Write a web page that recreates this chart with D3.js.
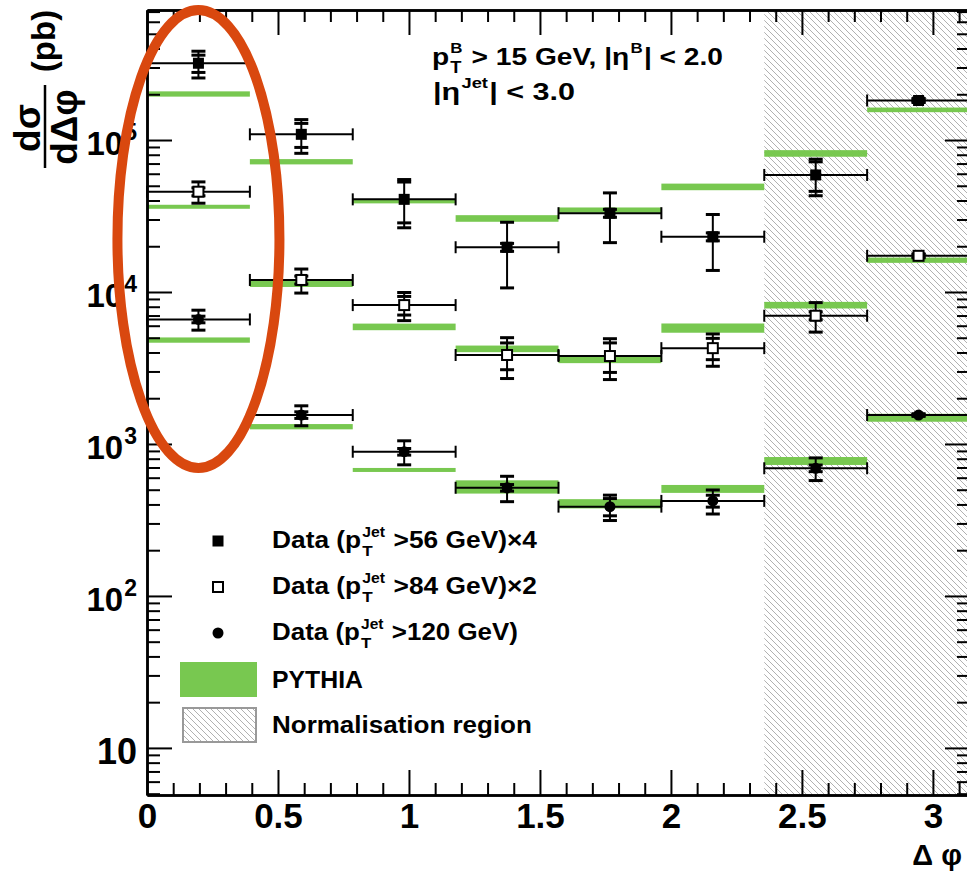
<!DOCTYPE html>
<html><head><meta charset="utf-8">
<script src="https://cdn.jsdelivr.net/npm/d3@7"></script>
<style>
body{margin:0;background:#fff;}
svg{display:block;font-family:"Liberation Sans",Arial,Helvetica,sans-serif;font-weight:bold;}
text{white-space:pre;}
</style></head><body><svg id="c" width="967" height="874"></svg>
<script>
// ---- data ----
const binEdges = [0, 0.3927, 0.7854, 1.1781, 1.5708, 1.9635, 2.3562, 2.7489, 3.1416];
const normRegion = [2.3562, 3.1416];

const data56 = [3.2e5, 1.09e5, 4.07e4, 1.97e4, 3.3e4, 2.31e4, 5.89e4, 1.82e5];
const tot56  = [0.20, 0.25, 0.35, 0.46, 0.36, 0.40, 0.27, 0.03];
const stat56 = [0.13, 0.18, 0.30, 0.06, 0.06, 0.06, 0.22, 0.02];

const data84 = [4.57e4, 1.2e4, 8.2e3, 3.85e3, 3.79e3, 4.27e3, 6.98e3, 1.73e4];
const tot84  = [0.16, 0.18, 0.21, 0.30, 0.30, 0.24, 0.22, 0.03];
const stat84 = [0.06, 0.06, 0.14, 0.20, 0.22, 0.16, 0.06, 0.02];

const data120 = [6.6e3, 1.55e3, 889, 515, 387, 422, 692, 1.55e3];
const tot120  = [0.15, 0.15, 0.18, 0.19, 0.19, 0.18, 0.17, 0.02];
const stat120 = [0.05, 0.05, 0.05, 0.05, 0.13, 0.09, 0.05, 0.01];

const pythia56 = [2.01e5, 7.2e4, 3.95e4, 3.05e4, 3.46e4, 4.92e4, 8.17e4, 1.58e5];
const pythia56Unc = [0.04, 0.04, 0.03, 0.05, 0.04, 0.05, 0.05, 0.035];
const pythia84 = [3.64e4, 1.13e4, 5.9e3, 4.23e3, 3.62e3, 5.8e3, 8.2e3, 1.62e4];
const pythia84Unc = [0.03, 0.045, 0.05, 0.05, 0.06, 0.07, 0.05, 0.04];
const pythia120 = [4.83e3, 1.3e3, 675, 524, 405, 507, 774, 1.49e3];
const pythia120Unc = [0.04, 0.04, 0.03, 0.10, 0.07, 0.06, 0.06, 0.06];

const xMajorTicks = [0, 0.5, 1, 1.5, 2, 2.5, 3];
const yMajorTicks = [10, 100, 1000, 10000, 100000];
const yTickExp = ["", "2", "3", "4", "5"];

// ---- setup ----
const svg = d3.select("#c");
const L = 147, R = 970, T = 10, B = 795;
const x = d3.scaleLinear().domain([0, Math.PI]).range([L, R]);
const y = d3.scaleLog().domain([4.9, 7.17e5]).range([B, T]);
const GREEN = "#78c850";

// hatch pattern
const defs = svg.append("defs");
const pat = defs.append("pattern").attr("id", "hatch").attr("patternUnits", "userSpaceOnUse")
  .attr("width", 6).attr("height", 6);
pat.append("path").attr("d", "M0,0 L6,6 M-1,5 L1,7 M5,-1 L7,1")
  .attr("stroke", "#a8a8a8").attr("stroke-width", 0.9);

// normalisation region
svg.append("rect").attr("x", x(normRegion[0])).attr("y", T)
  .attr("width", x(normRegion[1]) - x(normRegion[0])).attr("height", B - T)
  .attr("fill", "url(#hatch)");

// PYTHIA bands
function drawPythia(vals, unc) {
  svg.append("g").selectAll("rect").data(vals).join("rect")
    .attr("x", (d, i) => x(binEdges[i]))
    .attr("width", (d, i) => x(binEdges[i + 1]) - x(binEdges[i]))
    .attr("y", (d, i) => y(d * (1 + unc[i])))
    .attr("height", (d, i) => Math.max(4, y(d * (1 - unc[i])) - y(d * (1 + unc[i]))))
    .attr("fill", GREEN);
}
drawPythia(pythia56, pythia56Unc);
drawPythia(pythia84, pythia84Unc);
drawPythia(pythia120, pythia120Unc);

// data with error bars
function drawData(vals, tot, stat, type) {
  const g = svg.append("g").attr("stroke", "#000").attr("fill", "none");
  vals.forEach((v, i) => {
    const x0 = x(binEdges[i]), x1 = x(binEdges[i + 1]), xc = (x0 + x1) / 2, yc = y(v);
    g.append("line").attr("x1", x0).attr("x2", x1).attr("y1", yc).attr("y2", yc).attr("stroke-width", 2);
    g.append("line").attr("x1", x0).attr("x2", x0).attr("y1", yc - 6).attr("y2", yc + 6).attr("stroke-width", 2);
    g.append("line").attr("x1", x1).attr("x2", x1).attr("y1", yc - 6).attr("y2", yc + 6).attr("stroke-width", 2);
    const yt = y(v * (1 + tot[i])), yb = y(v * (1 - tot[i]));
    g.append("line").attr("x1", xc).attr("x2", xc).attr("y1", yt).attr("y2", yb).attr("stroke-width", 2);
    [yt, yb, y(v * (1 + stat[i])), y(v * (1 - stat[i]))].forEach(yy => {
      g.append("line").attr("x1", xc - 7).attr("x2", xc + 7).attr("y1", yy).attr("y2", yy).attr("stroke-width", 3);
    });
    if (type === "fsq") {
      svg.append("rect").attr("x", xc - 5.5).attr("y", yc - 5.5).attr("width", 11).attr("height", 11).attr("fill", "#000");
    } else if (type === "osq") {
      svg.append("rect").attr("x", xc - 5).attr("y", yc - 5).attr("width", 10).attr("height", 10)
        .attr("fill", "#fff").attr("stroke", "#000").attr("stroke-width", 2);
    } else {
      svg.append("circle").attr("cx", xc).attr("cy", yc).attr("r", 5.5).attr("fill", "#000");
    }
  });
}
drawData(data56, tot56, stat56, "fsq");
drawData(data84, tot84, stat84, "osq");
drawData(data120, tot120, stat120, "circ");

// ---- axes ----
const xMinor = d3.range(0, 3.15, 0.1).filter(v => Math.abs(v * 2 - Math.round(v * 2)) > 1e-6);
const yMinor = [];
for (let k = 0; k <= 5; k++) for (let m = 2; m <= 9; m++) { const v = m * Math.pow(10, k); if (v > 4.9 && v < 7.17e5) yMinor.push(v); }

function styleAxis(sel) {
  sel.selectAll("path,line").attr("stroke", "#000").attr("stroke-width", 2);
  sel.selectAll("path.domain").attr("stroke-width", 2.5);
}
const gxb = svg.append("g").attr("transform", `translate(0,${B})`)
  .call(d3.axisBottom(x).tickValues(xMajorTicks).tickSize(-25).tickSizeOuter(0).tickPadding(8).tickFormat(d => String(d)));
gxb.selectAll("text").attr("font-size", 35).attr("font-weight", "bold").attr("fill", "#000")
  .style("font-family", "'Liberation Sans',Arial,sans-serif");
svg.append("g").attr("transform", `translate(0,${B})`)
  .call(d3.axisBottom(x).tickValues(xMinor).tickSize(-12).tickSizeOuter(0).tickFormat("")).call(styleAxis);
styleAxis(gxb);
svg.append("g").attr("transform", `translate(0,${T})`)
  .call(d3.axisTop(x).tickValues(xMajorTicks).tickSize(-25).tickSizeOuter(0).tickFormat("")).call(styleAxis);
svg.append("g").attr("transform", `translate(0,${T})`)
  .call(d3.axisTop(x).tickValues(xMinor).tickSize(-12).tickSizeOuter(0).tickFormat("")).call(styleAxis);

svg.append("g").attr("transform", `translate(${L},0)`)
  .call(d3.axisLeft(y).tickValues(yMajorTicks).tickSize(-25).tickSizeOuter(0).tickFormat("")).call(styleAxis);
svg.append("g").attr("transform", `translate(${L},0)`)
  .call(d3.axisLeft(y).tickValues(yMinor).tickSize(-13).tickSizeOuter(0).tickFormat("")).call(styleAxis);
svg.append("g").attr("transform", `translate(${R},0)`)
  .call(d3.axisRight(y).tickValues(yMajorTicks).tickSize(-25).tickSizeOuter(0).tickFormat("")).call(styleAxis);
svg.append("g").attr("transform", `translate(${R},0)`)
  .call(d3.axisRight(y).tickValues(yMinor).tickSize(-13).tickSizeOuter(0).tickFormat("")).call(styleAxis);

// y tick labels
const yl = svg.append("g").attr("fill", "#000");
yMajorTicks.forEach((v, i) => {
  const ty = y(v);
  if (yTickExp[i] === "") {
    yl.append("text").attr("x", 137).attr("y", ty + 16).attr("text-anchor", "end").attr("font-size", 36).text("10");
  } else {
    const e = yl.append("text").attr("x", 137).attr("y", ty).attr("text-anchor", "end").attr("font-size", 23).text(yTickExp[i]);
    const ew = e.node().getComputedTextLength();
    yl.append("text").attr("x", 137 - ew - 1).attr("y", ty + 15).attr("text-anchor", "end").attr("font-size", 33).text("10");
  }
});

// axis titles
svg.append("text").attr("x", 962).attr("y", 865).attr("text-anchor", "end").attr("font-size", 29).text("Δ φ");
const yt = svg.append("g").attr("fill", "#000");
yt.append("text").attr("transform", "translate(55,41) rotate(-90)").attr("text-anchor", "middle").attr("font-size", 33).text("(pb)");
yt.append("text").attr("transform", "translate(40,128) rotate(-90)").attr("text-anchor", "middle").attr("font-size", 37).text("dσ");
yt.append("text").attr("transform", "translate(77,127) rotate(-90)").attr("text-anchor", "middle").attr("font-size", 37).text("dΔφ");
yt.append("line").attr("x1", 45).attr("x2", 45).attr("y1", 85).attr("y2", 168).attr("stroke", "#000").attr("stroke-width", 2.5);

// rich text helper
function rich(x0, base, size, parts, targetW) {
  const g = svg.append("g");
  const inner = g.append("g");
  let cx = 0;
  parts.forEach(p => {
    if (typeof p === "string") {
      const t = inner.append("text").attr("x", cx).attr("y", 0).attr("font-size", size).text(p);
      cx += t.node().getComputedTextLength();
    } else {
      let w = 0;
      if (p.sup) { const t = inner.append("text").attr("x", cx + 1).attr("y", -size * 0.48).attr("font-size", size * 0.6).text(p.sup); w = Math.max(w, t.node().getComputedTextLength()); }
      if (p.sub) { const t = inner.append("text").attr("x", cx + 1).attr("y", size * 0.35).attr("font-size", size * 0.65).text(p.sub); w = Math.max(w, t.node().getComputedTextLength()); }
      cx += w + 2;
    }
  });
  const sx = targetW ? targetW / cx : 1;
  g.attr("transform", `translate(${x0},${base}) scale(${sx},1)`);
  return g;
}

// annotations
rich(432, 65, 24, ["p", {sub: "T", sup: "B"}, " > 15 GeV, |η", {sup: "B"}, "| < 2.0"], 291);
rich(433, 100, 24, ["|η", {sup: "Jet"}, "| < 3.0"], 142);

// legend
const legX = 218;
svg.append("rect").attr("x", legX - 5.5).attr("y", 541 - 5.5).attr("width", 11).attr("height", 11).attr("fill", "#000");
svg.append("rect").attr("x", legX - 5).attr("y", 587 - 5).attr("width", 10).attr("height", 10).attr("fill", "#fff").attr("stroke", "#000").attr("stroke-width", 2);
svg.append("circle").attr("cx", legX).attr("cy", 633).attr("r", 5.5).attr("fill", "#000");
rich(272, 548, 23, ["Data (p", {sub: "T", sup: "Jet"}, " >56 GeV)×4"], 265);
rich(272, 594, 23, ["Data (p", {sub: "T", sup: "Jet"}, " >84 GeV)×2"], 265);
rich(272, 640, 23, ["Data (p", {sub: "T", sup: "Jet"}, " >120 GeV)"], 246);
svg.append("rect").attr("x", 180).attr("y", 662).attr("width", 77).attr("height", 35).attr("fill", GREEN);
rich(272, 688, 23, ["PYTHIA"], 91);
svg.append("rect").attr("x", 183).attr("y", 708).attr("width", 73).attr("height", 34)
  .attr("fill", "url(#hatch)").attr("stroke", "#999").attr("stroke-width", 2);
rich(272, 733, 23, ["Normalisation region"], 260);

// highlight ellipse annotation
svg.append("ellipse").attr("cx", x((binEdges[0] + binEdges[1]) / 2)).attr("cy", 239)
  .attr("rx", 81).attr("ry", 229)
  .attr("fill", "none").attr("stroke", "#d9480f").attr("stroke-width", 10);
</script></body></html>
